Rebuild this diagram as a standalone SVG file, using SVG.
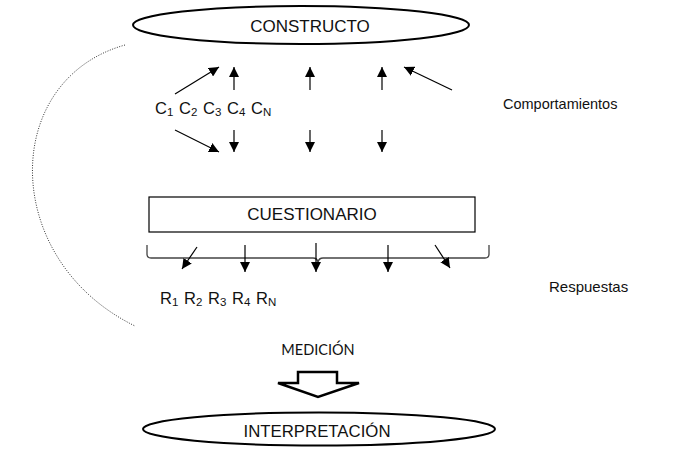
<svg xmlns="http://www.w3.org/2000/svg" width="673" height="454" viewBox="0 0 673 454">
<defs>
<marker id="ah" viewBox="0 0 10 10" refX="10" refY="5" markerWidth="10" markerHeight="10" markerUnits="userSpaceOnUse" orient="auto">
<path d="M0,0 L10,5 L0,10 Z" fill="#000"/>
</marker>
<style>
.t{font-family:"Liberation Sans",Arial,sans-serif;fill:#111}
.ar{stroke:#000;stroke-width:1.2;fill:none;marker-end:url(#ah)}
.sub{font-size:11.5px}
</style>
</defs>
<rect width="673" height="454" fill="#fff"/>
<g id="constructo">
<ellipse cx="301" cy="25" rx="168" ry="19" fill="#fff" stroke="#000" stroke-width="2"/>
<text class="t" x="310" y="32" font-size="17" text-anchor="middle">CONSTRUCTO</text>
</g>
<g id="comportamientos">
<text class="t" x="155" y="114" font-size="16.5"><tspan x="155">C</tspan><tspan class="sub" dy="2">1</tspan><tspan x="179" dy="-2">C</tspan><tspan class="sub" dy="2">2</tspan><tspan x="203" dy="-2">C</tspan><tspan class="sub" dy="2">3</tspan><tspan x="227" dy="-2">C</tspan><tspan class="sub" dy="2">4</tspan><tspan x="251" dy="-2">C</tspan><tspan class="sub" dy="2">N</tspan></text>
<text class="t" x="503" y="109" font-size="14.5">Comportamientos</text>
</g>
<g id="cuestionario">
<rect x="149" y="197" width="326" height="35" fill="#fff" stroke="#000" stroke-width="1.2"/>
<text class="t" x="312" y="220" font-size="17" text-anchor="middle">CUESTIONARIO</text>
</g>
<g id="respuestas">
<path d="M147,245 L147,254 Q147,258 151,258 L313,258 Q317,258 318,262 Q319,258 323,258 L485,258 Q489,258 489,254 L489,245" fill="none" stroke="#444" stroke-width="1.3"/>
<text class="t" x="160" y="304" font-size="16.5"><tspan x="160">R</tspan><tspan class="sub" dy="2">1</tspan><tspan x="184" dy="-2">R</tspan><tspan class="sub" dy="2">2</tspan><tspan x="208" dy="-2">R</tspan><tspan class="sub" dy="2">3</tspan><tspan x="232" dy="-2">R</tspan><tspan class="sub" dy="2">4</tspan><tspan x="256" dy="-2">R</tspan><tspan class="sub" dy="2">N</tspan></text>
<text class="t" x="549" y="292" font-size="15">Respuestas</text>
</g>
<g id="medicion">
<text x="318" y="355" font-family="Lato,'Open Sans',sans-serif" font-size="14.5" fill="#111" text-anchor="middle">MEDICIÓN</text>
<polygon points="298,372 337,372 337,383 359,383 318,397 278,383 298,383" fill="#fff" stroke="#000" stroke-width="2.5" stroke-linejoin="miter"/>
</g>
<g id="interpretacion">
<ellipse cx="319" cy="429" rx="176" ry="16.5" fill="#fff" stroke="#000" stroke-width="2"/>
<text class="t" x="317" y="437" font-size="16.8" text-anchor="middle">INTERPRETACIÓN</text>
</g>
<g id="connectors">
<path class="ar" d="M175,94 L219,67"/>
<path class="ar" d="M234,90 L234,67"/>
<path class="ar" d="M310,90 L310,67"/>
<path class="ar" d="M382,90 L382,67"/>
<path class="ar" d="M452,90 L404,67"/>
<path class="ar" d="M175,130 L219,152"/>
<path class="ar" d="M234,130 L234,152"/>
<path class="ar" d="M310,130 L310,152"/>
<path class="ar" d="M382,130 L382,152"/>
<path class="ar" d="M197,247 L182,269"/>
<path class="ar" d="M245,245 L245,272"/>
<path class="ar" d="M316,243 L316,272"/>
<path class="ar" d="M388,245 L388,272"/>
<path class="ar" d="M435,245 L450,268"/>
<path d="M125,45 C0,80 0,260 135,326" fill="none" stroke="#333" stroke-width="1" stroke-dasharray="1,1.5"/>
</g>
</svg>
